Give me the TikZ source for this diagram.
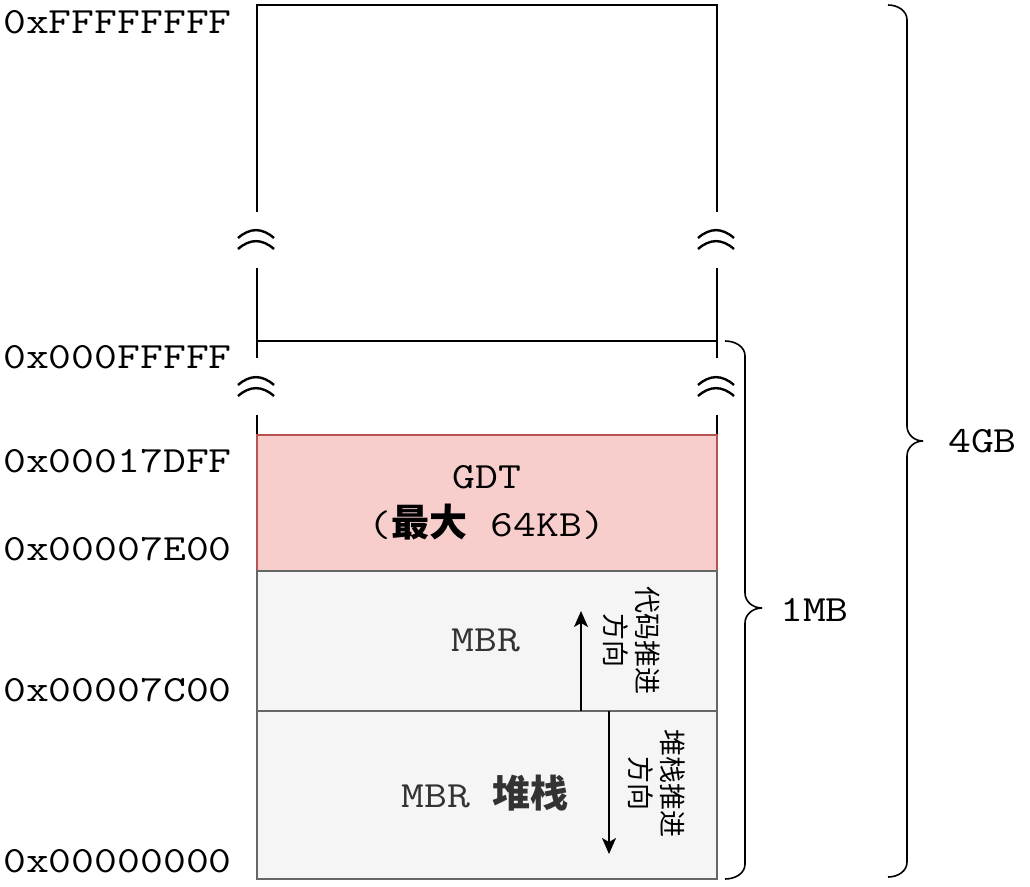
\documentclass[tikz,border=0pt]{standalone}
\usepackage{fontspec}
\setmonofont[FakeStretch=1.2]{Latin Modern Mono}
\newfontfamily\cjk{Noto Sans CJK SC}
\usetikzlibrary{arrows.meta}
\definecolor{gdtfill}{HTML}{F8CECC}
\definecolor{gdtline}{HTML}{B85450}
\definecolor{mbrfill}{HTML}{F5F5F5}
\definecolor{mbrline}{HTML}{666666}
\definecolor{mbrtext}{HTML}{333333}
\newcommand{\monof}{\fontsize{37}{48}\selectfont\ttfamily}
\newcommand{\cjkb}[1]{{\cjk\fontsize{38}{48}\selectfont\bfseries #1}}
\tikzset{
  wall/.style={line width=1.6pt, black},
  brkmark/.pic={
    \draw[line width=2.4pt] (-18,8) .. controls (-6,-2.5) and (6,-2.5) .. (18,8);
    \draw[line width=2.4pt] (-18,19) .. controls (-6,8.5) and (6,8.5) .. (18,19);
  },
  addr/.style={anchor=west, font=\monof, inner sep=0pt},
  gdtbox/.style={draw=gdtline, fill=gdtfill, line width=1.4pt, minimum width=460pt, inner sep=0pt},
  mbrbox/.style={draw=mbrline, fill=mbrfill, line width=1.4pt, minimum width=460pt, inner sep=0pt},
  dirtext/.style={rotate=-90, font=\cjk\fontsize{27}{32}\selectfont, align=center, inner sep=0pt},
  brace/.style={line width=1.6pt},
  arr/.style={line width=1.6pt, -{Stealth[length=16pt,width=14pt,inset=4pt]}},
  sizelabel/.style={anchor=west, font=\monof, inner sep=0pt}
}
\begin{document}
\begin{tikzpicture}[x=1pt,y=-1pt]
\useasboundingbox (0,0) rectangle (1030,886);
% upper region (up to 4GB)
\draw[wall] (257,212) -- (257,5) -- (717,5) -- (717,212);
\draw[wall] (257,268) -- (257,341) -- (717,341) -- (717,268);
\draw[wall] (257,341) -- (257,358);
\draw[wall] (717,341) -- (717,358);
\draw[wall] (257,415) -- (257,436);
\draw[wall] (717,415) -- (717,436);
\pic at (256,230) {brkmark};
\pic at (716,230) {brkmark};
\pic at (256,377) {brkmark};
\pic at (716,377) {brkmark};
% boxes
\node[gdtbox, minimum height=136pt, align=center, font=\monof] (gdt) at (487,503) {GDT\\(\cjkb{最大} 64KB)};
\node[mbrbox, minimum height=140pt, font=\monof, text=mbrtext] (mbr) at (487,641) {};
\node[mbrbox, minimum height=168pt, font=\monof, text=mbrtext] (stack) at (487,795) {};
\node[font=\monof, text=mbrtext, inner sep=0pt] (mbrlabel) at (486,640) {MBR};
\node[font=\monof, text=mbrtext, inner sep=0pt] (stacklabel) at (485,793) {MBR \cjkb{堆栈}};
% direction arrows
\coordinate (upstart) at (581,711);
\coordinate (upend) at (581,611);
\coordinate (downstart) at (609,711);
\coordinate (downend) at (609,854);
\draw[arr] (upstart) -- (upend);
\draw[arr] (downstart) -- (downend);
\node[dirtext] (codedir) at (632,640) {代码推进\\方向};
\node[dirtext] (stackdir) at (657,783) {堆栈推进\\方向};
% address labels
\node[addr] (a1) at (3,22) {0xFFFFFFFF};
\node[addr] (a2) at (3,357) {0x000FFFFF};
\node[addr] (a3) at (3,461) {0x00017DFF};
\node[addr] (a4) at (3,549) {0x00007E00};
\node[addr] (a5) at (3,690) {0x00007C00};
\node[addr] (a6) at (3,861) {0x00000000};
% braces
\draw[brace] (725,341) to[out=0,in=90] (745,356) -- (745,593) to[out=-90,in=180] (762,608);
\draw[brace] (762,608) to[out=180,in=90] (745,623) -- (745,864) to[out=-90,in=0] (725,879);
\node[sizelabel] (mb) at (780,610) {1MB};
\draw[brace] (888,5) to[out=0,in=90] (907,20) -- (907,426) to[out=-90,in=180] (923,441);
\draw[brace] (923,441) to[out=180,in=90] (907,456) -- (907,862) to[out=-90,in=0] (888,877);
\node[sizelabel] (gb) at (948,441) {4GB};
\end{tikzpicture}
\end{document}
